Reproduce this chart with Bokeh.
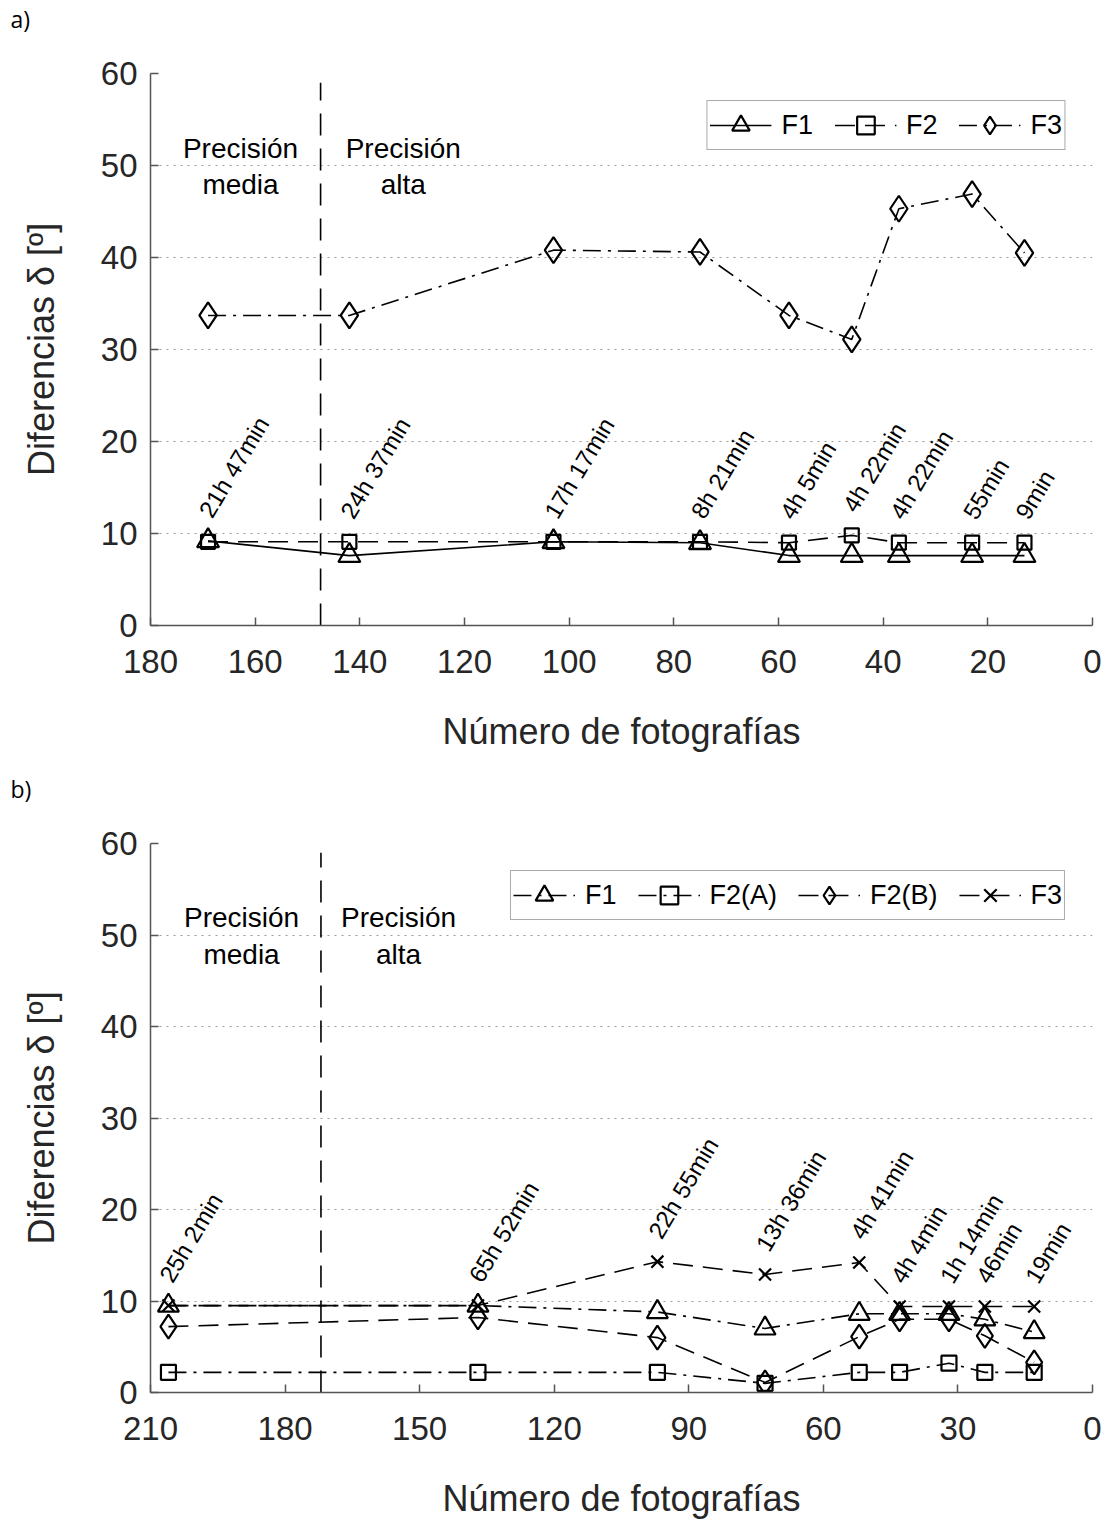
from bokeh.plotting import figure
from bokeh.models import Range1d, FixedTicker, Label, Legend, LegendItem, ColumnDataSource, Title
from bokeh.layouts import column
from bokeh.embed import file_html
from bokeh.resources import INLINE
from bokeh.core.properties import value

# ---------------- data: panel a) ----------------
a_photos = [169, 142, 103, 75, 58, 46, 37, 23, 13]
a_F1 = [9.2, 7.6, 9.1, 9.0, 7.6, 7.6, 7.6, 7.6, 7.6]
a_F2 = [9.1, 9.1, 9.1, 9.1, 9.0, 9.8, 9.0, 9.0, 9.0]
a_F3 = [33.7, 33.7, 40.8, 40.6, 33.7, 31.1, 45.3, 46.9, 40.5]
a_times = ["21h 47min", "24h 37min", "17h  17min", "8h 21min", "4h 5min",
           "4h 22min", "4h 22min", "55min", "9min"]
a_split = 147.5
a_xticks = [180, 160, 140, 120, 100, 80, 60, 40, 20, 0]

# ---------------- data: panel b) ----------------
b_photos = [206, 137, 97, 73, 52, 43, 32, 24, 13]
b_F1 = [9.5, 9.5, 8.8, 7.0, 8.6, 8.6, 8.6, 8.0, 6.6]
b_F2A = [2.2, 2.2, 2.2, 1.0, 2.2, 2.2, 3.2, 2.2, 2.2]
b_F2B = [7.2, 8.2, 6.0, 1.1, 6.1, 8.0, 8.0, 6.2, 3.3]
b_F3 = [9.5, 9.5, 14.3, 12.9, 14.2, 9.4, 9.4, 9.4, 9.4]
b_times = ["25h 2min", "65h 52min", "22h 55min", "13h 36min", "4h 41min",
           "4h 4min", "1h 14min", "46min", "19min"]
b_split = 172
b_xticks = [210, 180, 150, 120, 90, 60, 30, 0]

y_ticks = [0, 10, 20, 30, 40, 50, 60]

FONT = "Liberation Sans"
DASH = "20 10"
VDASH = "22 13"
DASHDOT = "18 7 3 7"


def make_panel(height, border_bottom, xmax, xticks, photos, series, times,
               label_keys, split, letter, media_x, alta_x):
    p = figure(width=1107, height=height, output_backend="svg", toolbar_location=None,
               x_range=Range1d(xmax, 0), y_range=Range1d(0, 60),
               min_border_left=150, min_border_right=15, min_border_top=73,
               min_border_bottom=border_bottom, background_fill_color="white",
               border_fill_color="white")
    p.outline_line_color = None
    p.xgrid.grid_line_color = None
    p.ygrid.grid_line_color = "#9a9a9a"
    p.ygrid.grid_line_dash = "2 5"
    p.ygrid.grid_line_width = 1.2

    for ax in (p.xaxis[0], p.yaxis[0]):
        ax.axis_line_color = "#555555"
        ax.axis_line_width = 1.5
        ax.major_tick_line_color = "#555555"
        ax.major_tick_line_width = 1.5
        ax.major_tick_in = 8
        ax.major_tick_out = 0
        ax.minor_tick_line_color = None
        ax.major_label_text_font = FONT
        ax.major_label_text_font_size = "33px"
        ax.major_label_text_color = "#262626"
        ax.axis_label_text_font = FONT
        ax.axis_label_text_font_size = "36px"
        ax.axis_label_text_font_style = "normal"
        ax.axis_label_text_color = "#262626"
    p.xaxis.ticker = FixedTicker(ticks=xticks)
    p.yaxis.ticker = FixedTicker(ticks=y_ticks)
    p.xaxis.major_label_standoff = 24
    p.xaxis.axis_label_standoff = 35
    p.yaxis.major_label_standoff = 13
    p.yaxis.axis_label_standoff = 36
    p.xaxis.axis_label = "Número de fotografías"
    p.yaxis.axis_label = "Diferencias δ [º]"

    # separation line between precision modes
    p.line(x=[split, split], y=[0, 59], line_color="black", line_width=1.6, line_dash=VDASH)

    items = []
    for name, vals, marker, size, dash in series:
        src = ColumnDataSource(dict(x=photos, y=vals))
        r_line = p.line("x", "y", source=src, line_color="black", line_width=1.6, line_dash=dash)
        r_pts = p.scatter("x", "y", source=src, marker=marker, size=size,
                          line_color="black", line_width=2.2, fill_alpha=0)
        items.append(LegendItem(label=name, renderers=[r_line, r_pts]))

    legend = Legend(items=items, orientation="horizontal", location="top_right",
                    margin=27, padding=2, spacing=21, glyph_width=62, glyph_height=44,
                    label_standoff=10, label_text_font=FONT, label_text_font_size="27px",
                    label_text_color="black", border_line_color="#555555",
                    border_line_width=1.5, background_fill_alpha=1)
    p.add_layout(legend)

    # rotated acquisition-time labels above each group of points
    lab_y = [max(vals[i] for vals in label_keys) + 2.8 for i in range(len(photos))]
    tsrc = ColumnDataSource(dict(x=photos, y=lab_y, t=times))
    p.text("x", "y", text="t", source=tsrc, angle=59, angle_units="deg",
           text_align="left", text_baseline="alphabetic", x_offset=-3,
           text_font=value(FONT), text_font_size="24px", text_color="black")

    for xx, top_txt, bot_txt in ((media_x, "Precisión", "media"), (alta_x, "Precisión", "alta")):
        p.add_layout(Label(x=xx, y=51.9, text=top_txt, text_align="center", text_baseline="middle",
                           text_font=FONT, text_font_size="28px", text_color="black"))
        p.add_layout(Label(x=xx, y=47.9, text=bot_txt, text_align="center", text_baseline="middle",
                           text_font=FONT, text_font_size="28px", text_color="black"))

    # panel letter: second (empty) line lifts the letter towards the top edge
    p.add_layout(Title(text=letter + "\n ", align="left", offset=-140, standoff=0,
                       text_font="Open Sans", text_font_size="23px", text_line_height=1.2,
                       text_font_style="normal", text_color="black"), "above")
    return p


pa = make_panel(770, 145, 180, a_xticks, a_photos,
                [("F1", a_F1, "triangle", 22, "solid"),
                 ("F2", a_F2, "square", 14, DASH),
                 ("F3", a_F3, "diamond", 26, DASHDOT)],
                a_times, [a_F1, a_F2], a_split, "a)", 162.8, 131.7)

pb = make_panel(751, 129, 210, b_xticks, b_photos,
                [("F1", b_F1, "triangle", 21, DASHDOT),
                 ("F2(A)", b_F2A, "square", 15, DASHDOT),
                 ("F2(B)", b_F2B, "diamond", 24, DASH),
                 ("F3", b_F3, "x", 17, DASH)],
                b_times, [b_F1, b_F2A, b_F2B, b_F3], b_split, "b)", 189.7, 154.7)

layout = column(pa, pb, spacing=0)
open("out.html", "w").write(file_html(layout, INLINE))
